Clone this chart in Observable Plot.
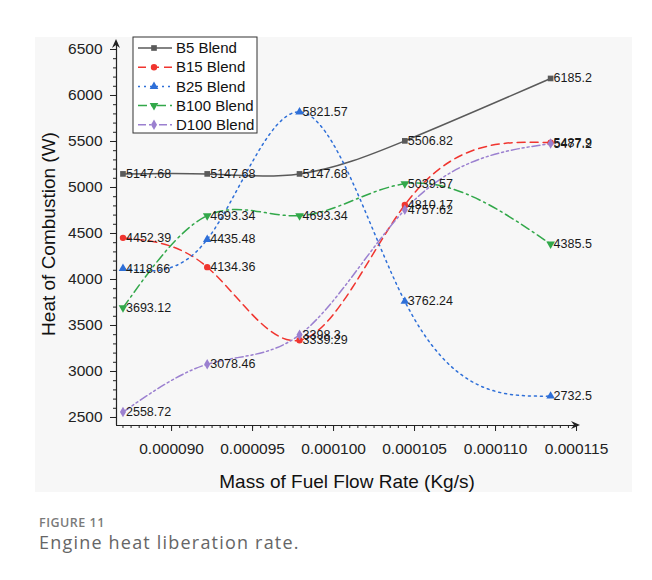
<!DOCTYPE html>
<html><head><meta charset="utf-8">
<script src="https://cdn.jsdelivr.net/npm/d3@7"></script>
<script src="https://cdn.jsdelivr.net/npm/@observablehq/plot@0.6"></script>
<style>
body{margin:0;background:#fff;font-family:"Liberation Sans",Arial,sans-serif}
#wrap{position:relative;width:652px;height:580px;overflow:hidden}
#panel{position:absolute;left:35px;top:37px;width:597px;height:455px;background:#f7f7f7}
#chart{position:absolute;left:0;top:0}
#cap1{position:absolute;left:39px;top:514px;font-family:"Open Sans",sans-serif;font-weight:600;font-size:12.5px;color:#7a7a7a;letter-spacing:0.5px}
#cap2{position:absolute;left:39px;top:530px;font-family:"Open Sans",sans-serif;font-size:18px;color:#666;letter-spacing:1.2px}
</style></head>
<body>
<div id="wrap"><div id="panel"></div><div id="chart"></div>
<div id="cap1">FIGURE 11</div><div id="cap2">Engine heat liberation rate.</div></div>
<script>
const flowRates = [0.0000870, 0.0000922, 0.0000979, 0.0001044, 0.0001134];
const seriesNames = ["B5 Blend", "B15 Blend", "B25 Blend", "B100 Blend", "D100 Blend"];
const b5Values = [5147.68, 5147.68, 5147.68, 5506.82, 6185.2];
const b15Values = [4452.39, 4134.36, 3339.29, 4810.17, 5487.9];
const b25Values = [4118.66, 4435.48, 5821.57, 3762.24, 2732.5];
const b100Values = [3693.12, 4693.34, 4693.34, 5039.57, 4385.5];
const d100Values = [2558.72, 3078.46, 3398.3, 4757.62, 5477.2];
const yTicks = [2500, 3000, 3500, 4000, 4500, 5000, 5500, 6000, 6500];
const xTicks = [0.000090, 0.000095, 0.000100, 0.000105, 0.000110, 0.000115];

const seriesValues = [b5Values, b15Values, b25Values, b100Values, d100Values];
const colors = ["#5a5a5a", "#f0352f", "#2e6fd8", "#32a84a", "#9b80d0"];
const dashes = [null, "8,5", "2,4", "9,4,2,4", "8,3,2,3,2,3"];
const symbols = ["square", "circle", "triangle", "triangle", "diamond"];
const rotates = [0, 0, 0, 180, 0];

const series = seriesNames.map((name, i) => ({
  name, color: colors[i], dash: dashes[i], symbol: symbols[i], rotate: rotates[i],
  data: seriesValues[i].map((v, j) => ({x: flowRates[j], y: v}))
}));

// natural cubic spline parameterised by x (like Origin's spline connection)
function naturalX(context) {
  let xs, ys;
  return {
    areaStart() {}, areaEnd() {},
    lineStart() { xs = []; ys = []; },
    point(x, y) { xs.push(+x); ys.push(+y); },
    lineEnd() {
      const n = xs.length;
      if (!n) return;
      context.moveTo(xs[0], ys[0]);
      if (n === 2) { context.lineTo(xs[1], ys[1]); return; }
      const h = [], s = [];
      for (let i = 0; i < n - 1; i++) { h[i] = xs[i + 1] - xs[i]; s[i] = (ys[i + 1] - ys[i]) / h[i]; }
      const M = new Array(n).fill(0);
      const m = n - 2;
      const a = [], b = [], c = [], d = [];
      for (let k = 0; k < m; k++) {
        const i = k + 1;
        a[k] = h[i - 1]; b[k] = 2 * (h[i - 1] + h[i]); c[k] = h[i]; d[k] = 6 * (s[i] - s[i - 1]);
      }
      for (let k = 1; k < m; k++) { const w = a[k] / b[k - 1]; b[k] -= w * c[k - 1]; d[k] -= w * d[k - 1]; }
      M[m] = d[m - 1] / b[m - 1];
      for (let k = m - 2; k >= 0; k--) M[k + 1] = (d[k] - c[k] * M[k + 2]) / b[k];
      for (let i = 0; i < n - 1; i++) {
        const m0 = s[i] - h[i] * (2 * M[i] + M[i + 1]) / 6;
        const m1 = s[i] + h[i] * (M[i] + 2 * M[i + 1]) / 6;
        context.bezierCurveTo(xs[i] + h[i] / 3, ys[i] + m0 * h[i] / 3, xs[i + 1] - h[i] / 3, ys[i + 1] - m1 * h[i] / 3, xs[i + 1], ys[i + 1]);
      }
    }
  };
}

const xDomain = [0.0000866, 0.00011506];
const yDomain = [2413, 6576];
const yMinor = d3.range(2500, 6501, 100);
const xMinor = d3.range(0, 57).map(k => 0.0000870 + k * 0.0000005).filter(v => v <= 0.000115 + 1e-12);

const marks = [
  Plot.axisY(yMinor, {tickSize: 3, text: null, stroke: "#222", label: null}),
  Plot.axisY(yTicks, {tickSize: 6, tickPadding: 8, fontSize: 15.5, fill: "#222", stroke: "#222", label: null, tickFormat: d => String(d)}),
  Plot.axisX(xMinor, {tickSize: 3, text: null, stroke: "#222", label: null}),
  Plot.axisX(xTicks, {tickSize: 6, tickPadding: 11, fontSize: 15.5, fill: "#222", stroke: "#222", label: null, tickFormat: d3.format(".6f")}),
  Plot.ruleX([xDomain[0]], {stroke: "#222", strokeWidth: 1.2}),
  Plot.ruleY([yDomain[0]], {stroke: "#222", strokeWidth: 1.2}),
  Plot.text(["Heat of Combustion (W)"], {frameAnchor: "left", dx: -68, rotate: -90, textAnchor: "middle", lineAnchor: "middle", fontSize: 19, fill: "#111", text: d => d}),
  Plot.text(["Mass of Fuel Flow Rate (Kg/s)"], {frameAnchor: "bottom", dy: 56, textAnchor: "middle", lineAnchor: "middle", fontSize: 19, fill: "#111", text: d => d})
];
for (const s of series) {
  marks.push(Plot.line(s.data, {x: "x", y: "y", stroke: s.color, strokeWidth: 1.5, strokeDasharray: s.dash, curve: naturalX}));
}
for (const s of series) {
  marks.push(Plot.dot(s.data, {x: "x", y: "y", symbol: s.symbol, rotate: s.rotate, fill: s.color, r: 3.2, stroke: "none"}));
}
for (const s of series) {
  marks.push(Plot.text(s.data, {x: "x", y: "y", text: d => String(d.y), dx: 3, textAnchor: "start", fontSize: 12.5, fill: "#1a1a1a"}));
}

const plot = Plot.plot({
  width: 652, height: 500,
  marginLeft: 116, marginRight: 75, marginTop: 42, marginBottom: 75,
  style: {background: "transparent", fontFamily: "'Liberation Sans', Arial, sans-serif"},
  x: {domain: xDomain, axis: null},
  y: {domain: yDomain, axis: null},
  marks
});
document.getElementById("chart").appendChild(plot);

// axis arrowheads and legend
const svg = d3.select(plot);
const sx = plot.scale("x"), sy = plot.scale("y");
const x0 = sx.apply(xDomain[0]), yTop = sy.apply(yDomain[1]);
const y0 = sy.apply(yDomain[0]), xRight = sx.apply(xDomain[1]);
svg.append("path").attr("d", `M${x0},${yTop-3}L${x0-4},${yTop+6}L${x0},${yTop+3}L${x0+4},${yTop+6}Z`).attr("fill", "#222");
svg.append("path").attr("d", `M${xRight+3},${y0}L${xRight-6},${y0-4}L${xRight-3},${y0}L${xRight-6},${y0+4}Z`).attr("fill", "#222");

const lg = svg.append("g").attr("transform", "translate(133,37)").attr("text-anchor", "start");
lg.append("rect").attr("x", 0).attr("y", 0).attr("width", 124).attr("height", 96).attr("fill", "#fff").attr("stroke", "#333").attr("stroke-width", 1);
const symPath = {square: d3.symbolSquare, circle: d3.symbolCircle, triangle: d3.symbolTriangle, diamond: d3.symbolDiamond};
series.forEach((s, i) => {
  const yy = 11 + i * 19.2;
  lg.append("line").attr("x1", 5).attr("x2", 39).attr("y1", yy).attr("y2", yy)
    .attr("stroke", s.color).attr("stroke-width", 1.5).attr("stroke-dasharray", s.dash);
  lg.append("path").attr("d", d3.symbol(symPath[s.symbol], 32)())
    .attr("transform", `translate(21,${yy}) rotate(${s.rotate})`).attr("fill", s.color);
  lg.append("text").attr("x", 43).attr("y", yy).attr("dy", "0.35em").attr("font-size", 15)
    .attr("text-anchor", "start").attr("fill", "#111").text(s.name);
});
</script>
</body></html>
